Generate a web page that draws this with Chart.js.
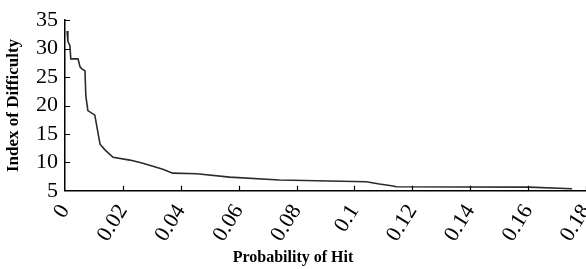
<!DOCTYPE html>
<html>
<head>
<meta charset="utf-8">
<script src="https://cdn.jsdelivr.net/npm/chart.js@4.4.0/dist/chart.umd.min.js"></script>
<style>
  html, body { margin: 0; padding: 0; background: #fff; overflow: hidden; }
  #wrap { width: 586px; height: 269px; position: relative; }
</style>
</head>
<body>
<div id="wrap"><canvas id="chart"></canvas></div>
<script>
// values
const probability = [0.0007, 0.001, 0.0017, 0.002, 0.0045, 0.0052, 0.0059, 0.0069, 0.0072, 0.0079, 0.0103, 0.0121, 0.0138, 0.0166, 0.0224, 0.0266, 0.0338, 0.0372, 0.0455, 0.0569, 0.0741, 0.1041, 0.1086, 0.1128, 0.1145, 0.1603, 0.1752];
const difficulty = [33.1, 31.3, 30.5, 28.2, 28.2, 26.8, 26.4, 26.1, 21.7, 19.1, 18.3, 13.2, 12.2, 10.9, 10.4, 9.9, 8.8, 8.1, 8.0, 7.4, 6.9, 6.6, 6.2, 5.9, 5.7, 5.65, 5.35];
const xTicks = [0, 0.02, 0.04, 0.06, 0.08, 0.1, 0.12, 0.14, 0.16, 0.18];
const yTicks = [5, 10, 15, 20, 25, 30, 35];

const serif = "'Liberation Serif', 'DejaVu Serif', serif";

// small tick marks pointing into the plot area
const insideTicks = {
  id: 'insideTicks',
  afterDraw(chart) {
    const ctx = chart.ctx;
    const x = chart.scales.x, y = chart.scales.y;
    ctx.save();
    ctx.strokeStyle = '#000';
    ctx.lineWidth = 1.2;
    ctx.beginPath();
    xTicks.forEach(v => {
      if (v === 0) return;
      const px = Math.round(x.getPixelForValue(v)) + 0.5;
      ctx.moveTo(px, y.bottom);
      ctx.lineTo(px, y.bottom - 5);
    });
    yTicks.forEach(v => {
      if (v === 5) return;
      const py = Math.round(y.getPixelForValue(v)) + 0.5;
      ctx.moveTo(x.left, py);
      ctx.lineTo(x.left + 5, py);
    });
    ctx.stroke();
    ctx.restore();
  }
};

new Chart(document.getElementById('chart'), {
  type: 'line',
  data: {
    datasets: [{
      data: probability.map((p, i) => ({x: p, y: difficulty[i]})),
      borderColor: '#2b2b2b',
      borderWidth: 1.6,
      pointRadius: 0,
      tension: 0,
      fill: false
    }]
  },
  options: {
    responsive: true,
    maintainAspectRatio: false,
    animation: false,
    layout: {padding: {top: 14, right: 0, bottom: 2, left: 0}},
    plugins: {
      legend: {display: false},
      tooltip: {enabled: false},
      title: {
        display: true,
        position: 'bottom',
        text: 'Probability of Hit',
        color: '#000',
        font: {family: serif, size: 16, weight: 'bold'},
        padding: 0
      }
    },
    scales: {
      x: {
        type: 'linear',
        min: 0,
        max: 0.18,
        afterBuildTicks: s => { s.ticks = xTicks.map(v => ({value: v})); },
        afterFit: s => { s.paddingRight = 0; s.height = 57; },
        grid: {display: true, drawOnChartArea: false, drawTicks: false},
        border: {display: true, color: '#000', width: 1.5},
        ticks: {
          color: '#000',
          font: {family: serif, size: 22},
          minRotation: 58,
          maxRotation: 58,
          autoSkip: false,
          padding: 9,
          callback: v => String(+v.toFixed(2))
        }
      },
      y: {
        min: 5,
        max: 35,
        afterBuildTicks: s => { s.ticks = yTicks.map(v => ({value: v})); },
        afterFit: s => { s.width = 65; },
        grid: {display: true, drawOnChartArea: false, drawTicks: false},
        border: {display: true, color: '#000', width: 1.5},
        ticks: {
          color: '#000',
          font: {family: serif, size: 22},
          autoSkip: false,
          padding: 7
        },
        title: {
          display: true,
          text: 'Index of Difficulty',
          color: '#000',
          font: {family: serif, size: 17, weight: 'bold'},
          padding: {top: 3, bottom: 5}
        }
      }
    }
  },
  plugins: [insideTicks]
});
</script>
</body>
</html>
